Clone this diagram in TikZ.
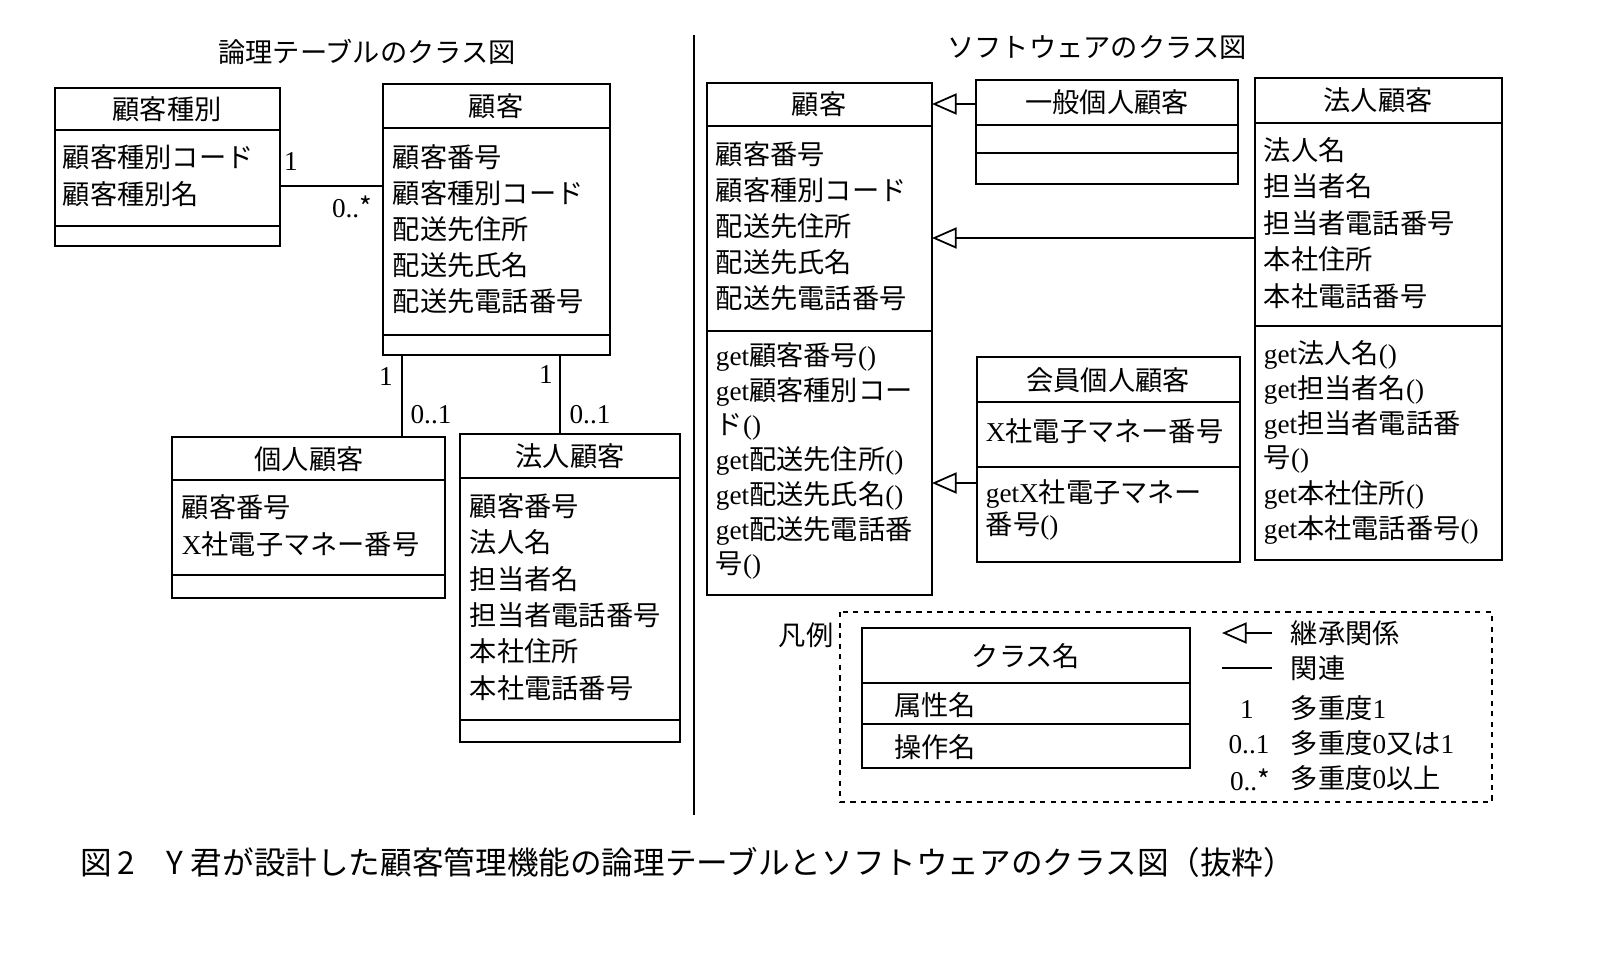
\documentclass[tikz,border=0pt]{standalone}
\usepackage{fontspec}
\usetikzlibrary{arrows.meta}
\setmainfont{Noto Sans CJK JP}
\newfontfamily\lat{Liberation Serif}
\newcommand\LL[1]{{\lat #1}}
\begin{document}
\begin{tikzpicture}[x=0.02cm,y=-0.02cm,line width=1pt,
  txt/.style={font=\fontsize{15.5pt}{18pt}\selectfont,inner sep=0pt},
  captxt/.style={font=\fontsize{18pt}{20pt}\selectfont,inner sep=0pt},
  inh/.style={-{Triangle[open,length=14pt,width=12pt]}},
  ]
\useasboundingbox (0,0) rectangle (1620,964);
\newcommand\cls[6]{\draw (#1,#2) rectangle (#3,#4); \draw (#1,#5) -- (#3,#5); \draw (#1,#6) -- (#3,#6);}
\newcommand\tl[5]{\foreach \t [count=\i] in {#5} \node[txt,anchor=west] (#1-\i) at (#2,{#3+(\i-1)*#4}) {\t};}
\node[txt] (t1) at (367,52) {論理テーブルのクラス図};
\node[txt] (t2) at (1097,48) {ソフトウェアのクラス図};
\draw (694,35) -- (694,815);
\cls{55}{88}{280}{246}{130}{226}
\node[txt] (a0) at (167,109) {顧客種別};
\tl{a}{62}{157}{37}{顧客種別コード,顧客種別名}
\cls{383}{84}{610}{355}{128}{335}
\node[txt] (b0) at (496,106) {顧客};
\tl{b}{392}{157}{36}{顧客番号,顧客種別コード,配送先住所,配送先氏名,配送先電話番号}
\coordinate (p1) at (280,186); \coordinate (p2) at (383,186);
\draw (p1) -- (p2);
\node[txt] (m1) at (291,162) {\LL{1}};
\node[txt] (m2) at (352,207) {\LL{0..}*};
\cls{172}{437}{445}{598}{480}{575}
\node[txt] (c0) at (309,459) {個人顧客};
\tl{c}{181}{507}{37}{顧客番号,\LL{X}社電子マネー番号}
\cls{460}{434}{680}{742}{478}{720}
\node[txt] (d0) at (570,456) {法人顧客};
\tl{d}{469}{506}{36.4}{顧客番号,法人名,担当者名,担当者電話番号,本社住所,本社電話番号}
\coordinate (q1) at (402,355); \coordinate (q2) at (402,437);
\coordinate (r1) at (560,355); \coordinate (r2) at (560,434);
\draw (q1) -- (q2); \draw (r1) -- (r2);
\node[txt] (m3) at (386,377) {\LL{1}};
\node[txt] (m4) at (431,415) {\LL{0..1}};
\node[txt] (m5) at (546,375) {\LL{1}};
\node[txt] (m6) at (590,415) {\LL{0..1}};
\cls{707}{83}{932}{595}{126}{331}
\node[txt] (e0) at (819,104) {顧客};
\tl{e}{715}{154}{36}{顧客番号,顧客種別コード,配送先住所,配送先氏名,配送先電話番号}
\tl{f}{715}{357}{34.8}{\LL{get}顧客番号\LL{()},\LL{get}顧客種別コー,ド\LL{()},\LL{get}配送先住所\LL{()},\LL{get}配送先氏名\LL{()},\LL{get}配送先電話番,号\LL{()}}
\cls{976}{80}{1238}{184}{125}{153}
\node[txt] (g0) at (1107,102) {一般個人顧客};
\cls{1255}{78}{1502}{560}{123}{326}
\node[txt] (h0) at (1378,100) {法人顧客};
\tl{h}{1263}{150}{36.5}{法人名,担当者名,担当者電話番号,本社住所,本社電話番号}
\tl{i}{1263}{355}{35}{\LL{get}法人名\LL{()},\LL{get}担当者名\LL{()},\LL{get}担当者電話番,号\LL{()},\LL{get}本社住所\LL{()},\LL{get}本社電話番号\LL{()}}
\cls{977}{357}{1240}{562}{402}{467}
\node[txt] (k0) at (1108,380) {会員個人顧客};
\node[txt,anchor=west] (k1) at (985,431) {\LL{X}社電子マネー番号};
\tl{k}{985}{494}{32}{\LL{getX}社電子マネー,番号\LL{()}}
\coordinate (s1) at (976,104); \coordinate (s2) at (932,104);
\coordinate (s3) at (1255,238); \coordinate (s4) at (932,238);
\coordinate (s5) at (977,483); \coordinate (s6) at (932,483);
\draw[inh] (s1) -- (s2); \draw[inh] (s3) -- (s4); \draw[inh] (s5) -- (s6);
\draw[dashed] (840,612) rectangle (1492,802);
\node[txt] (lg) at (806,635) {凡例};
\cls{862}{628}{1190}{768}{683}{724}
\node[txt] (l0) at (1026,656) {クラス名};
\node[txt] (l1) at (935,705) {属性名};
\node[txt] (l2) at (935,747) {操作名};
\coordinate (u1) at (1272,633); \coordinate (u2) at (1222,633);
\draw[inh] (u1) -- (u2);
\coordinate (u3) at (1222,668); \coordinate (u4) at (1272,668);
\draw (u3) -- (u4);
\node[txt,anchor=west] (v1) at (1290,633) {継承関係};
\node[txt,anchor=west] (v2) at (1290,668) {関連};
\node[txt] (w1) at (1247,710) {\LL{1}};
\node[txt,anchor=west] (v3) at (1290,708) {多重度\LL{1}};
\node[txt] (w2) at (1249,745) {\LL{0..1}};
\node[txt,anchor=west] (v4) at (1290,743) {多重度\LL{0}又は\LL{1}};
\node[txt] (w3) at (1250,780) {\LL{0..}*};
\node[txt,anchor=west] (v5) at (1290,778) {多重度\LL{0}以上};
\node[captxt,anchor=west] (cp) at (80,862) {図\,2\quad Y 君が設計した顧客管理機能の論理テーブルとソフトウェアのクラス図（抜粋）};
\end{tikzpicture}
\end{document}
